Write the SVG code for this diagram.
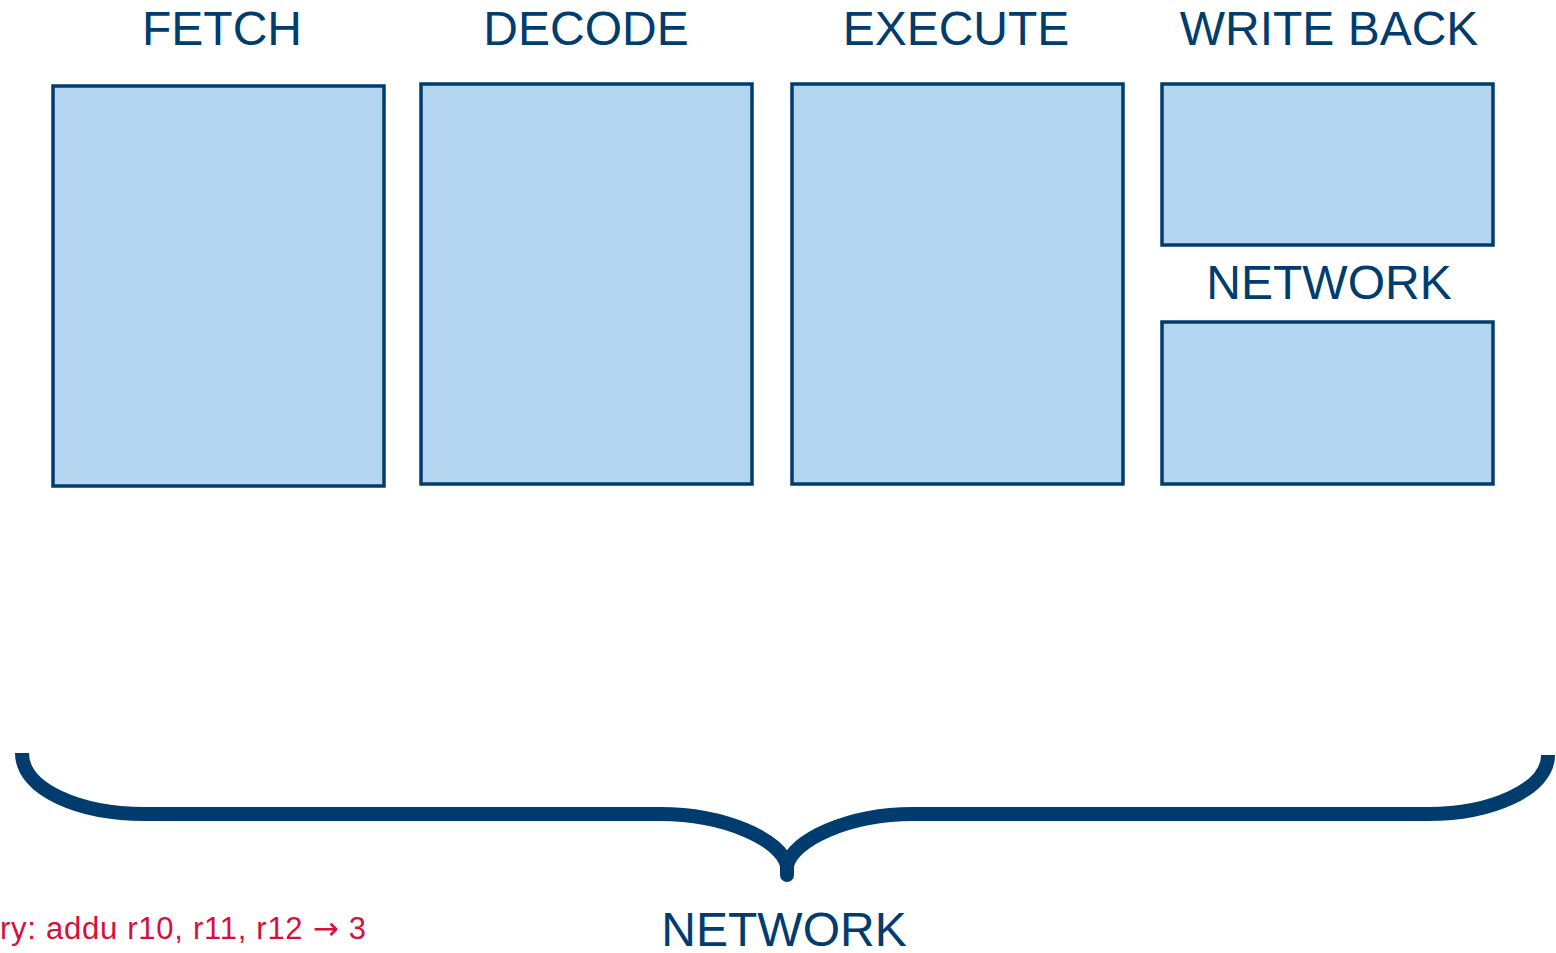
<svg xmlns="http://www.w3.org/2000/svg" width="1556" height="953" viewBox="0 0 1556 953">
<style>
.box{fill:#b4d5ef;stroke:#003d6e;stroke-width:3.5}
.lbl{font-family:"Liberation Sans",Arial,sans-serif;font-size:48px;fill:#003d6e;text-anchor:middle}
.brace{fill:none;stroke:#003d6e;stroke-width:14}
.note{font-family:"Liberation Sans",Arial,sans-serif;font-size:31px;fill:#d6103c}
</style>
<rect width="1556" height="953" fill="#fff"/>
<g id="fetch"><rect class="box" x="53" y="86" width="331" height="400"/><text class="lbl" x="222" y="45">FETCH</text></g>
<g id="decode"><rect class="box" x="421" y="84" width="331" height="400"/><text class="lbl" x="586" y="45">DECODE</text></g>
<g id="execute"><rect class="box" x="792" y="84" width="331" height="400"/><text class="lbl" x="956" y="45">EXECUTE</text></g>
<g id="writeback"><rect class="box" x="1162" y="84" width="331" height="161"/><text class="lbl" x="1329" y="45">WRITE BACK</text></g>
<g id="network-top"><rect class="box" x="1162" y="322" width="331" height="162"/><text class="lbl" x="1329" y="299">NETWORK</text></g>
<g id="connectors">
<path class="brace" d="M22,753 C22,790 80,814 145,814 L660,814 C725,814 782,840 787,866 C792,840 849,814 913,814 L1428,814 C1490,814 1548,790 1548,755"/>
<path class="brace" d="M787,862 L787,875" stroke-linecap="round"/>
</g>
<g id="network-bottom"><text class="lbl" x="784" y="946">NETWORK</text></g>
<g id="note"><text class="note" x="0" y="939" textLength="366" lengthAdjust="spacing">ry: addu r10, r11, r12 <tspan font-family="'DejaVu Sans',sans-serif">→</tspan> 3</text></g>
</svg>
